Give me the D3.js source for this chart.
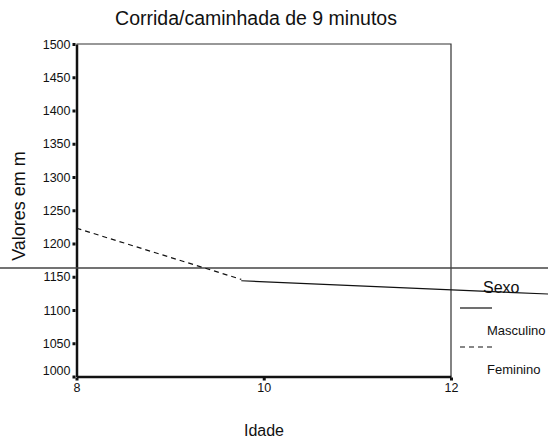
<!DOCTYPE html>
<html>
<head>
<meta charset="utf-8">
<script src="https://cdn.jsdelivr.net/npm/d3@7"></script>
<style>
  body { margin: 0; background: #fff; }
  svg { display: block; }
  svg text { font-family: "Liberation Sans", Arial, sans-serif; fill: #111; }
</style>
</head>
<body>
<div id="chart"></div>
<script>
// --- Data ---
const yTicks = [1000, 1050, 1100, 1150, 1200, 1250, 1300, 1350, 1400, 1450, 1500];
const xTicks = [8, 10, 12];
const masculino = [[9.76, 1144], [13.04, 1124]];
const feminino = [[8, 1223], [9.76, 1146]];
const refValue = 1163;
const seriesNames = ["Masculino", "Feminino"];

const W = 548, H = 448;

const svg = d3.select("#chart").append("svg")
  .attr("width", W)
  .attr("height", H);

const x = d3.scaleLinear().domain([8, 12]).range([76.5, 451]);
const y = d3.scaleLinear().domain([1000, 1500]).range([376.5, 44]);

// title
svg.append("text")
  .attr("x", 256).attr("y", 25)
  .attr("text-anchor", "middle")
  .style("font-size", "19.5px")
  .text("Corrida/caminhada de 9 minutos");

// frame top + right (thin)
svg.append("path")
  .attr("d", `M${x(8)},${y(1500)}H${x(12)}V${y(1000)}`)
  .attr("fill", "none")
  .attr("stroke", "#333")
  .attr("stroke-width", 1.2);

// left axis
const yAxis = d3.axisLeft(y).tickValues(yTicks).tickFormat(d3.format("d"))
  .tickSize(0).tickPadding(6);
const gy = svg.append("g").attr("transform", `translate(${x(8)},0)`).call(yAxis);
gy.select(".domain").attr("stroke", "#111").attr("stroke-width", 2.5);
gy.selectAll(".tick text")
  .style("font-size", "12.5px")
  .attr("dy", d => d === 1000 ? "-0.2em" : "0.32em");
gy.selectAll(".tick").append("rect")
  .attr("x", -4).attr("y", -1.5).attr("width", 3).attr("height", 3)
  .attr("fill", "#111");

// bottom axis
const xAxis = d3.axisBottom(x).tickValues(xTicks).tickFormat(d3.format("d"))
  .tickSize(0).tickPadding(7);
const gx = svg.append("g").attr("transform", `translate(0,${y(1000)})`).call(xAxis);
gx.select(".domain").attr("stroke", "#111").attr("stroke-width", 2.5);
gx.selectAll(".tick text").style("font-size", "12.5px");
gx.selectAll(".tick").append("rect")
  .attr("x", -1.5).attr("y", 1).attr("width", 3).attr("height", 3)
  .attr("fill", "#111");

// axis titles
svg.append("text")
  .attr("x", 264).attr("y", 436)
  .attr("text-anchor", "middle")
  .style("font-size", "16px")
  .text("Idade");

svg.append("text")
  .attr("transform", "translate(25,206) rotate(-90)")
  .attr("text-anchor", "middle")
  .style("font-size", "18px")
  .text("Valores em m");

// reference line across the whole picture
svg.append("line")
  .attr("x1", 0).attr("x2", W)
  .attr("y1", y(refValue)).attr("y2", y(refValue))
  .attr("stroke", "#444")
  .attr("stroke-width", 1.5);

// series
const line = d3.line().x(d => x(d[0])).y(d => y(d[1]));

svg.append("path")
  .datum(feminino)
  .attr("d", line)
  .attr("fill", "none")
  .attr("stroke", "#111")
  .attr("stroke-width", 1.2)
  .attr("stroke-dasharray", "5,4");

svg.append("path")
  .datum(masculino)
  .attr("d", line)
  .attr("fill", "none")
  .attr("stroke", "#111")
  .attr("stroke-width", 1.2);

// legend
const lg = svg.append("g");
lg.append("text")
  .attr("x", 483).attr("y", 293)
  .style("font-size", "16px")
  .text("Sexo");

const dashes = [null, "5,4"];
const rowY = [308, 347];
seriesNames.forEach((name, i) => {
  lg.append("line")
    .attr("x1", 460).attr("x2", 492)
    .attr("y1", rowY[i]).attr("y2", rowY[i])
    .attr("stroke", "#111")
    .attr("stroke-width", 1.2)
    .attr("stroke-dasharray", dashes[i]);
  lg.append("text")
    .attr("x", 487).attr("y", rowY[i] + 27)
    .style("font-size", "13px")
    .text(name);
});
</script>
</body>
</html>
